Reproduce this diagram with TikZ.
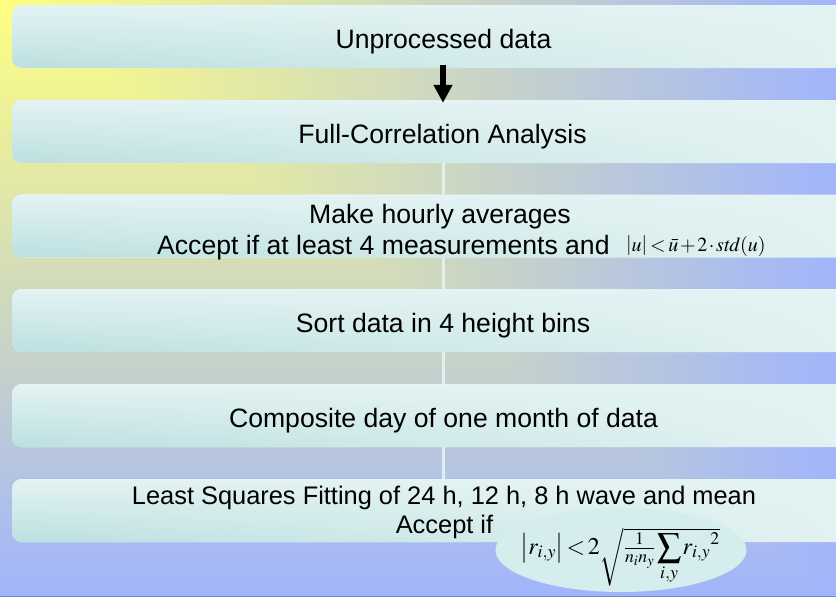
\documentclass[tikz,border=0pt]{standalone}
\usepackage{amsmath}
\usepackage{mathptmx}
\usepackage{fontspec}
\setmainfont{Liberation Sans}
\usetikzlibrary{shapes.geometric,fadings,arrows.meta}
\definecolor{bgY}{RGB}{255,255,128}
\definecolor{bgB}{RGB}{161,181,250}
\definecolor{boxL}{RGB}{228,243,243}
\definecolor{boxD}{RGB}{188,224,224}
\definecolor{ellC}{RGB}{214,237,237}
\definecolor{edgeC}{RGB}{120,135,200}
\tikzset{
  box/.style={rectangle, rounded corners=10pt, minimum width=862pt, minimum height=63pt,
    inner sep=0pt, fill=boxL,
    path picture={\fill[top color=boxL, bottom color=boxD, path fading=east]
      (path picture bounding box.north west) rectangle (path picture bounding box.south east);}},
  txt/.style={font=\fontsize{26.6pt}{30pt}\selectfont, inner sep=0pt, anchor=base},
  txtsm/.style={font=\fontsize{25.4pt}{30pt}\selectfont, inner sep=0pt, anchor=base},
  fml/.style={font=\fontsize{20pt}{24pt}\selectfont, inner sep=0pt},
  fmlb/.style={font=\fontsize{24pt}{30pt}\selectfont, inner sep=0pt},
  conn/.style={draw=boxL, line width=3pt, opacity=0.9},
  bigarrow/.style={draw=black, line width=6.5pt, -{Triangle[width=18pt,length=18pt]},
    shorten <=-3pt, shorten >=-3pt},
}
\begin{document}
\begin{tikzpicture}[x=1pt,y=-1pt]
\useasboundingbox (0,0) rectangle (836,597);
\clip (0,0) rectangle (836,597);
% background: gradient from the top-left corner
\fill[bgB] (0,0) rectangle (836,597);
\foreach \i in {100,99,...,1}{
  \fill[bgB!\i!bgY] (0,0) rectangle ({\i*8.36},{\i*5.97});
}
\draw[edgeC, line width=1.2pt] (0,596.4) -- (836,596.4);
% boxes
\node[box] (b1) at (443,36.5) {};
\node[box] (b2) at (443,131.5) {};
\node[box] (b3) at (443,226) {};
\node[box] (b4) at (443,320.5) {};
\node[box] (b5) at (443,415.5) {};
\node[box] (b6) at (443,510.5) {};
% connectors
\draw[bigarrow] (b1.south) -- (b2.north);
\draw[conn] (b2.south) -- (b3.north);
\draw[conn] (b3.south) -- (b4.north);
\draw[conn] (b4.south) -- (b5.north);
\draw[conn] (b5.south) -- (b6.north);
% texts
\node[txt] (t1) at (443.5,48) {Unprocessed data};
\node[txt] (t2) at (442.5,143) {Full-Correlation Analysis};
\node[txt] (t3a) at (440,223) {Make hourly averages};
\node[txt, anchor=base west] (t3b) at (157,254) {Accept if at least 4 measurements and};
\node[fml, anchor=base west] (f1) at (626,251)
  {$\thickmuskip=2.5mu\medmuskip=1.5mu\left|u\right| < \bar{u} + 2\cdot \mathit{std}(u)$};
\node[txt] (t4) at (443,332) {Sort data in 4 height bins};
\node[txt] (t5) at (443.5,427) {Composite day of one month of data};
\node[txtsm] (t6a) at (444,504) {Least Squares Fitting of 24 h, 12 h, 8 h wave and mean};
\node[txtsm] (t6b) at (444.5,533) {Accept if};
\node[ellipse, fill=ellC, minimum width=251pt, minimum height=84pt, inner sep=0pt] (el) at (621,550) {};
\node[fmlb] (f2) at (620,557)
  {$\thickmuskip=2mu\medmuskip=1mu\thinmuskip=1mu\left|r_{i,y}\right| < 2\sqrt{\tfrac{1}{n_i n_y}\displaystyle\sum_{i,y} {r_{i,y}}^{2}}$};
\end{tikzpicture}
\end{document}
